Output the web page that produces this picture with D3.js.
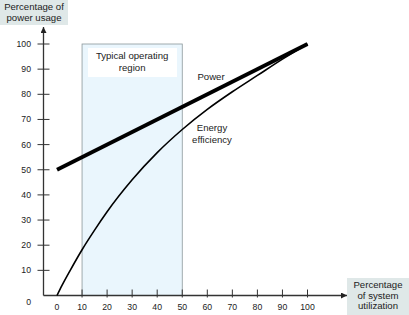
<!DOCTYPE html>
<html><head><meta charset="utf-8">
<script src="https://cdn.jsdelivr.net/npm/d3@7"></script>
<style>body{margin:0;background:#fff}svg{display:block}text{font-family:"Liberation Sans",Arial,sans-serif;fill:#222}</style>
</head><body>
<svg id="c" width="409" height="315"></svg>
<script>
const xTicks = [0,10,20,30,40,50,60,70,80,90,100];
const yTicks = [0,10,20,30,40,50,60,70,80,90,100];
const powerU = [0,100];
const powerV = [50,100];
const effU = [0,2,5,10,15,20,30,40,50,60,70,80,90,100];
const effV = [0,4,9.5,18.2,26,33.3,46,56.8,66,74,81,87.5,94,100];
const region = [10,50];
const yTitle = ["Percentage of","power usage"];
const xTitle = ["Percentage","of system","utilization"];
const regionLabel = ["Typical operating","region"];

const svg = d3.select("#c");
const x = d3.scaleLinear().domain([0,100]).range([57,307.5]);
const y = d3.scaleLinear().domain([0,100]).range([295.5,44]);
const axX = 43.5, axY = 295.5;

// region
svg.append("rect").attr("x",x(region[0])).attr("y",44).attr("width",x(region[1])-x(region[0])).attr("height",axY-44)
  .attr("fill","#eaf6fd").attr("stroke","#8a979a").attr("stroke-width",0.8);
svg.append("rect").attr("x",88).attr("y",48).attr("width",89).attr("height",29).attr("fill","#fff");
svg.selectAll(".rl").data(regionLabel).join("text").attr("x",(x(region[0])+x(region[1]))/2).attr("y",(d,i)=>59+i*12)
  .attr("text-anchor","middle").attr("font-size",9.6).text(d=>d);

// axes
const defs = svg.append("defs");
defs.append("marker").attr("id","ar").attr("viewBox","0 0 10 10").attr("refX",10).attr("refY",5)
  .attr("markerWidth",6).attr("markerHeight",6).attr("markerUnits","userSpaceOnUse").attr("orient","auto")
  .append("path").attr("d","M0,0L10,5L0,10Z").attr("fill","#222");
svg.append("line").attr("x1",axX).attr("y1",axY).attr("x2",axX).attr("y2",27).attr("stroke","#333").attr("stroke-width",1.3).attr("marker-end","url(#ar)");
svg.append("line").attr("x1",axX).attr("y1",axY).attr("x2",347).attr("y2",axY).attr("stroke","#333").attr("stroke-width",1.3).attr("marker-end","url(#ar)");

const yg = svg.append("g");
yg.selectAll("line").data(yTicks.filter(d=>d>0)).join("line").attr("x1",axX-6).attr("x2",axX+6).attr("y1",d=>y(d)).attr("y2",d=>y(d)).attr("stroke","#333").attr("stroke-width",1);
yg.selectAll("text").data(yTicks).join("text").attr("x",31).attr("y",d=>d===0?y(d)+9:y(d)+3).attr("text-anchor","end").attr("font-size",8.7).text(d=>d);

const xg = svg.append("g");
xg.selectAll("line").data(xTicks.filter(d=>d>0)).join("line").attr("x1",d=>x(d)).attr("x2",d=>x(d)).attr("y1",axY-6).attr("y2",axY+2).attr("stroke","#333").attr("stroke-width",1);
xg.selectAll("text").data(xTicks).join("text").attr("x",d=>x(d)).attr("y",310).attr("text-anchor","middle").attr("font-size",8.7).text(d=>d);

// lines
const line = d3.line().x(d=>x(d[0])).y(d=>y(d[1]));
svg.append("path").datum(effU.map((u,i)=>[u,effV[i]])).attr("d",line.curve(d3.curveMonotoneX)).attr("fill","none").attr("stroke","#000").attr("stroke-width",1.6);
svg.append("path").datum(powerU.map((u,i)=>[u,powerV[i]])).attr("d",d3.line().x(d=>x(d[0])).y(d=>y(d[1]))).attr("fill","none").attr("stroke","#000").attr("stroke-width",3.8);

svg.append("text").attr("x",211).attr("y",80).attr("text-anchor","middle").attr("font-size",9.6).text("Power");
svg.selectAll(".el").data(["Energy","efficiency"]).join("text").attr("x",212).attr("y",(d,i)=>131+i*12).attr("text-anchor","middle").attr("font-size",9.6).text(d=>d);

// axis titles
svg.append("rect").attr("x",0).attr("y",0).attr("width",68).attr("height",25).attr("fill","#dfe8e8");
svg.selectAll(".yt").data(yTitle).join("text").attr("x",34).attr("y",(d,i)=>10+i*11).attr("text-anchor","middle").attr("font-size",9.6).text(d=>d);
svg.append("rect").attr("x",347).attr("y",278).attr("width",62).attr("height",37).attr("fill","#dfe8e8");
svg.selectAll(".xt").data(xTitle).join("text").attr("x",378).attr("y",(d,i)=>288+i*10.7).attr("text-anchor","middle").attr("font-size",9.6).text(d=>d);
</script>
</body></html>
